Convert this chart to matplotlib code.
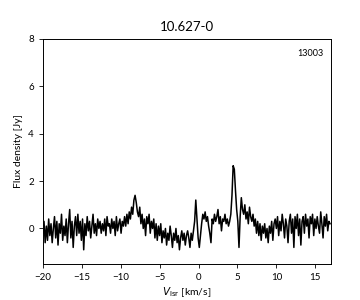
import numpy as np
import matplotlib
matplotlib.use("Agg")
import matplotlib.pyplot as plt

plt.rcParams['font.family'] = ['Lato', 'DejaVu Sans']

# spectrum channels: start velocity and channel width (km/s)
v_start = -20.0
v_step = 0.15

# flux density per channel [Jy]
flux = [
    -0.2, 0.3, -0.6, 0.1, -0.5, 0.4, -0.3, 0.2, -0.6, 0.0,
    0.5, -0.4, 0.3, -0.7, 0.2, -0.2, 0.6, -0.5, 0.1, -0.3,
    0.4, -0.6, 0.2, 0.8, -0.4, 0.3, -0.8, 0.1, 0.5, -0.3,
    0.6, -0.2, 0.3, -0.5, 0.4, -0.9, 0.2, -0.3, 0.5, -0.1,
    0.3, -0.4, 0.1, 0.6, -0.2, 0.2, -0.3, 0.4, 0.0, 0.3,
    -0.2, 0.2, -0.1, 0.4, -0.3, 0.5, 0.1, 0.2, -0.2, 0.4,
    0.0, 0.3, -0.3, 0.5, -0.1, 0.2, 0.4, -0.2, 0.3, 0.1,
    0.5, 0.1, 0.6, 0.2, 0.7, 0.4, 0.9, 0.6, 1.2, 1.4,
    1.1, 0.7, 0.5, 0.9, 0.2, 0.6, 0.0, 0.4, -0.3, 0.5,
    0.2, 0.6, -0.2, 0.3, 0.0, 0.4, -0.4, 0.2, -0.5, 0.1,
    -0.3, 0.2, -0.6, -0.1, -0.4, 0.0, -0.7, -0.2, -0.5, 0.1,
    -0.3, -0.8, -0.2, -0.5, 0.0, -0.6, -0.3, -0.9, -0.4, -0.1,
    -0.5, -0.2, -0.7, -0.3, -0.1, -0.4, -0.8, -0.2, -0.5, -0.1,
    0.3, 1.2, 0.4, -0.4, -0.8, -0.3, 0.2, 0.6, 0.4, 0.7,
    0.3, 0.5, 0.1, -0.2, -0.6, 0.4, 0.2, 0.6, 0.3, 0.5,
    0.8, 0.2, 0.5, -0.1, 0.4, 0.3, 0.6, 0.2, 0.4, 0.1,
    0.3, 0.6, 1.4, 2.65, 2.5, 1.6, 0.8, 0.3, -0.8, 0.5,
    1.3, 0.8, 0.6, 1.0, 0.4, 0.7, 0.2, 0.9, 0.5, 0.3,
    0.6, 0.1, 0.4, -0.2, 0.3, -0.3, 0.2, -0.5, 0.1, -0.2,
    0.2, -0.4, 0.0, -0.6, 0.1, -0.2, 0.3, -0.5, 0.2, 0.4,
    0.0, 0.5, -0.3, 0.3, -0.1, 0.6, 0.2, -0.4, 0.4, 0.1,
    -0.6, 0.3, 0.6, -0.2, 0.4, -0.8, 0.5, 0.0, 0.6, -0.3,
    0.4, -0.7, 0.3, 0.5, -0.2, 0.6, 0.1, 0.4, -0.4, 0.5,
    0.2, 0.6, -0.3, 0.4, 0.0, 0.5, 0.1, -0.2, 0.7, 0.2,
    -0.4, 0.5, 0.1, 0.6, -0.1, 0.3, 0.2,
]
vel = v_start + v_step * np.arange(len(flux))

title = "10.627-0"
tag = "13003"

fig = plt.figure(figsize=(3.6, 3.0), dpi=100)
ax = fig.add_axes([0.119, 0.12, 0.80, 0.75])
ax.plot(vel, flux, color='black', lw=1.1)

ax.set_xlim(-20, 17)
ax.set_ylim(-1.5, 8)
ax.set_xticks([-20, -15, -10, -5, 0, 5, 10, 15])
ax.set_yticks([0, 2, 4, 6, 8])
ax.tick_params(labelsize=7, length=3, width=0.6)
for s in ax.spines.values():
    s.set_linewidth(0.7)

ax.set_title(title, fontsize=9.5)
ax.set_xlabel(r'$V_\mathrm{lsr}$ [km/s]', fontsize=7.5, labelpad=2)
ax.set_ylabel('Flux density [Jy]', fontsize=7.5, labelpad=4)
ax.text(0.975, 0.955, tag, transform=ax.transAxes, ha='right', va='top', fontsize=6.5)

fig.savefig("out.png", dpi=100)
